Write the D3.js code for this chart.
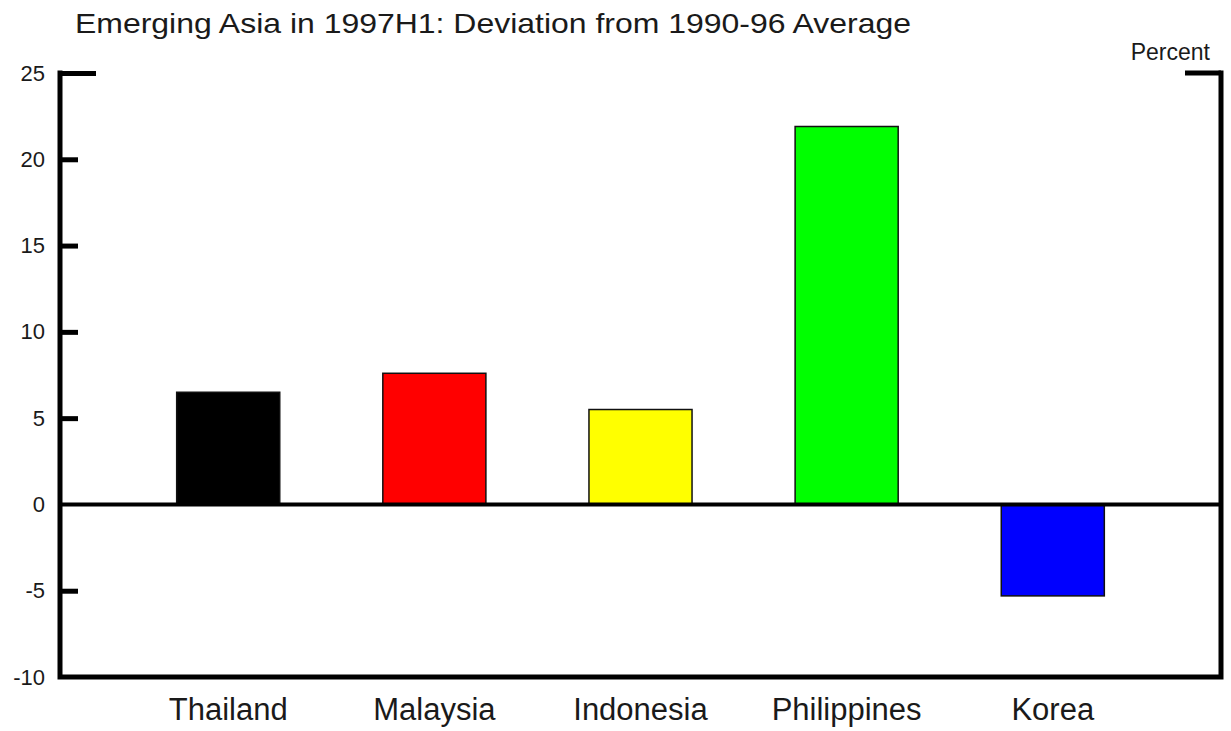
<!DOCTYPE html>
<html>
<head>
<meta charset="utf-8">
<script src="https://cdn.jsdelivr.net/npm/d3@7"></script>
<style>
  body { margin: 0; background: #fff; }
  text { font-family: "Liberation Sans", Arial, sans-serif; fill: #1a1a1a; }
</style>
</head>
<body>
<svg></svg>
<script>
var width = 1231;
var height = 731;
var margin = {top: 73, right: 10, bottom: 54, left: 60};

// data
var countries = ["Thailand", "Malaysia", "Indonesia", "Philippines", "Korea"];
var deviation = [6.5, 7.6, 5.5, 21.9, -5.3];
var barColors = ["#000000", "#ff0000", "#ffff00", "#00ff00", "#0000ff"];
var yTicks = [-10, -5, 0, 5, 10, 15, 20, 25];

var svg = d3.select('svg')
    .attr('width', width)
    .attr('height', height);

var x = d3.scaleBand()
    .domain(countries)
    .range([margin.left, width - margin.right])
    .paddingInner(0.5)
    .paddingOuter(0.566);

var y = d3.scaleLinear()
    .domain([-10, 25])
    .range([height - margin.bottom, margin.top]);

//title and unit (the original type is a bit wide, so stretch it to its length)
svg.append('text')
    .attr('x', 75)
    .attr('y', 33)
    .attr('textLength', 836)
    .attr('lengthAdjust', 'spacingAndGlyphs')
    .style('font-size', '28px')
    .text('Emerging Asia in 1997H1: Deviation from 1990-96 Average');

svg.append('text')
    .attr('x', 1210)
    .attr('y', 60)
    .attr('text-anchor', 'end')
    .style('font-size', '23px')
    .text('Percent');

//bars
svg.selectAll('.bar')
    .data(countries)
    .enter()
    .append('rect')
        .classed('bar', true)
        .attr('x', d => x(d))
        .attr('width', x.bandwidth())
        .attr('y', (d, i) => y(Math.max(0, deviation[i])))
        .attr('height', (d, i) => Math.abs(y(deviation[i]) - y(0)))
        .attr('fill', (d, i) => barColors[i])
        .attr('stroke', '#111')
        .attr('stroke-width', 1.5);

//left axis, ticks pointing inwards
var yAxis = svg.append('g')
    .attr('transform', `translate(${margin.left}, 0)`)
    .call(d3.axisLeft(y)
        .tickValues(yTicks)
        .tickFormat(d => String(d)) //plain hyphen like the original
        .tickSize(-18)
        .tickPadding(15));
yAxis.select('.domain').remove();
yAxis.selectAll('.tick line')
    .attr('stroke', '#000')
    .attr('stroke-width', 5)
    .attr('x2', d => d === 25 ? 36 : 18)
    .attr('display', d => (d === -10 || d === 0) ? 'none' : null);
yAxis.selectAll('.tick text')
    .style('font-size', '22px')
    .attr('fill', '#1a1a1a');

//frame: left, right, bottom
var frame = d3.path();
frame.moveTo(margin.left, y(25) - 2.5);
frame.lineTo(margin.left, y(-10));
frame.lineTo(width - margin.right, y(-10));
frame.lineTo(width - margin.right, y(25) - 2.5);
svg.append('path')
    .attr('d', frame.toString())
    .attr('fill', 'none')
    .attr('stroke', '#000')
    .attr('stroke-width', 5);

//right top corner tick
svg.append('line')
    .attr('x1', width - margin.right)
    .attr('x2', width - margin.right - 36)
    .attr('y1', y(25))
    .attr('y2', y(25))
    .attr('stroke', '#000')
    .attr('stroke-width', 5);

//zero line
svg.append('line')
    .attr('x1', margin.left)
    .attr('x2', width - margin.right)
    .attr('y1', y(0))
    .attr('y2', y(0))
    .attr('stroke', '#000')
    .attr('stroke-width', 4);

//category labels
svg.selectAll('.cat')
    .data(countries)
    .enter()
    .append('text')
        .classed('cat', true)
        .attr('x', d => x(d) + x.bandwidth() / 2)
        .attr('y', 720)
        .attr('text-anchor', 'middle')
        .style('font-size', '31px')
        .text(d => d);
</script>
</body>
</html>
